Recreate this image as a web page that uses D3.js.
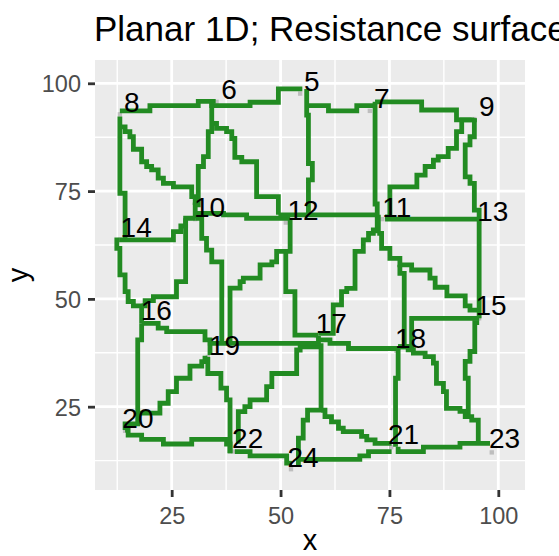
<!DOCTYPE html>
<html><head><meta charset="utf-8">
<script src="https://cdn.jsdelivr.net/npm/d3@7"></script>
<style>body{margin:0;background:#fff}</style>
</head><body><svg id="c" width="559" height="556"></svg>
<script>
const titleText = "Planar 1D; Resistance surface";
const xTicks = [25, 50, 75, 100];
const yTicks = [25, 50, 75, 100];
const xMinor = [12.5, 37.5, 62.5, 87.5];
const yMinor = [12.5, 37.5, 62.5, 87.5];

// node labels (anchor = label position) and node raster cells
const nodeIds = [5, 6, 7, 8, 9, 10, 11, 12, 13, 14, 15, 16, 17, 18, 19, 20, 21, 22, 23, 24];
const nodeX = [55.6, 36.6, 71.7, 14.3, 95.8, 30.35, 73.6, 51.8, 95.4, 13.5, 95.0, 18.1, 58.3, 76.5, 33.8, 13.9, 74.9, 39.1, 98.1, 51.8];
const nodeY = [98.1, 96.3, 94.3, 93.3, 92.3, 69.1, 69.1, 68.3, 68.1, 64.3, 46.3, 45.1, 42.0, 38.6, 37.0, 20.0, 16.35, 15.35, 15.35, 11.1];
const cellX = [54.5, 35.3, 70.5, 13.1, 94.5, 30.4, 73.4, 51.2, 95.6, 13.1, 95.6, 18.3, 58.3, 76.6, 33.3, 14.3, 75.4, 39.2, 98.5, 52.4];
const cellY = [97.6, 95.7, 93.6, 92.8, 91.7, 68.5, 68.5, 67.7, 67.7, 63.7, 45.5, 44.3, 41.4, 38.0, 36.5, 19.4, 15.6, 14.6, 14.4, 10.5];

// least-cost paths (x, y) on the resistance surface
const path_8_6 = [[13.1,93.6],[20.0,93.6],[20.0,94.8],[31.1,94.8],[31.1,95.8],[35.1,95.8]];
const path_6_5 = [[34.2,95.8],[34.2,94.8],[43.0,94.8],[43.0,95.6],[49.5,95.6],[49.5,98.7],[55.0,98.7]];
const path_5_11 = [[56.0,98.7],[56.0,92.6],[56.4,92.6],[56.4,81.4],[57.3,81.4],[57.3,77.6],[56.4,77.6],[56.4,69.5]];
const path_5_7 = [[56.4,94.8],[61.0,94.8],[61.0,93.6],[67.5,93.6],[67.5,94.8],[71.7,94.8]];
const path_7_11 = [[71.7,95.7],[71.7,72.0],[72.2,72.0],[72.2,65.2]];
const path_7_9 = [[71.7,95.7],[82.4,95.7],[82.4,93.8],[90.4,93.8],[90.4,91.5],[94.5,91.5],[94.5,91.9]];
const path_11_15 = [[72.2,65.2],[73.2,65.2],[73.2,61.7],[75.1,61.7],[75.1,59.4],[77.4,59.4],[77.4,57.9],[80.1,57.9],[80.1,56.7],[84.3,56.7],[84.3,54.8],[85.5,54.8],[85.5,52.7],[88.2,52.7],[88.2,50.7],[92.4,50.7],[92.4,48.4],[93.5,48.4],[93.5,47.4],[95.6,47.4]];
const path_11_18 = [[77.4,57.9],[77.4,55.9],[78.4,55.9],[78.4,39.0]];
const path_9_11 = [[93.9,91.5],[91.6,91.5],[91.6,88.8],[90.4,88.8],[90.4,84.9],[88.5,84.9],[88.5,83.0],[86.2,83.0],[86.2,82.2],[85.1,82.2],[85.1,80.7],[83.2,80.7],[83.2,78.7],[81.3,78.7],[81.3,76.0],[75.1,76.0],[75.1,69.0],[74.0,69.0]];
const path_9_13 = [[94.5,91.9],[94.5,87.6],[93.5,87.6],[93.5,85.7],[92.4,85.7],[92.4,78.3],[93.5,78.3],[93.5,76.8],[94.5,76.8],[94.5,70.6],[95.6,70.6],[95.6,68.5]];
const path_11_13 = [[74.0,68.5],[95.6,68.5]];
const path_13_15 = [[95.6,68.5],[95.6,45.5]];
const path_15_18 = [[95.6,45.5],[80.1,45.5],[80.1,38.9],[77.0,38.9]];
const path_15_23 = [[95.6,44.5],[94.6,44.5],[94.6,37.8],[93.5,37.8],[93.5,35.5],[92.4,35.5],[92.4,31.6],[93.1,31.6],[93.1,22.7]];
const path_18_23 = [[77.0,38.9],[79.3,38.9],[79.3,38.2],[80.5,38.2],[80.5,37.4],[83.2,37.4],[83.2,36.6],[85.1,36.6],[85.1,35.1],[85.8,35.1],[85.8,30.4],[87.4,30.4],[87.4,28.5],[88.1,28.5],[88.1,24.6],[91.2,24.6],[91.2,23.9],[92.4,23.9],[92.4,22.7],[93.9,22.7],[93.9,21.9],[95.4,21.9],[95.4,16.5]];
const path_18_21 = [[77.0,38.9],[77.0,31.6],[76.4,31.6],[76.4,15.7]];
const path_21_23 = [[77.0,15.7],[77.0,14.6],[82.8,14.6],[82.8,15.6],[91.2,15.6],[91.2,16.5],[98.1,16.5]];
const path_24_21 = [[54.1,12.8],[68.2,12.8],[68.2,13.6],[70.2,13.6],[70.2,14.6],[75.5,14.6]];
const path_17_21 = [[59.3,24.2],[60.2,24.2],[60.2,22.7],[61.7,22.7],[61.7,21.5],[63.3,21.5],[63.3,20.0],[64.4,20.0],[64.4,19.2],[68.6,19.2],[68.6,18.1],[69.8,18.1],[69.8,17.3],[71.7,17.3],[71.7,16.5],[75.5,16.5]];
const path_17_24 = [[59.3,39.7],[59.3,24.2],[56.2,24.2],[56.2,21.9],[55.2,21.9],[55.2,17.7],[54.1,17.7],[54.1,11.3]];
const path_22_24 = [[39.5,14.6],[43.0,14.6],[43.0,13.6],[51.4,13.6],[51.4,11.9],[52.6,11.9]];
const path_17_22 = [[58.3,39.7],[58.3,38.9],[54.5,38.9],[54.5,38.15],[53.7,38.15],[53.7,32.7],[48.0,32.7],[48.0,29.65],[46.8,29.65],[46.8,26.6],[43.0,26.6],[43.0,25.0],[41.8,25.0],[41.8,23.85],[40.3,23.85],[40.3,16.4]];
const path_19_22 = [[33.3,36.5],[33.3,32.7],[36.3,32.7],[36.3,29.3],[37.6,29.3],[37.6,26.6],[38.4,26.6],[38.4,14.2]];
const path_20_22 = [[14.3,19.6],[15.0,19.6],[15.0,18.4],[18.1,18.4],[18.1,17.4],[23.1,17.4],[23.1,16.35],[29.6,16.35],[29.6,17.4],[37.6,17.4],[37.6,16.35],[38.4,16.35],[38.4,14.2]];
const path_20_19 = [[17.2,23.5],[22.3,23.5],[22.3,25.8],[24.2,25.8],[24.2,28.5],[26.1,28.5],[26.1,31.6],[29.2,31.6],[29.2,34.4],[31.9,34.4],[31.9,35.45],[32.65,35.45],[32.65,36.8]];
const path_16_20 = [[18.1,44.3],[18.1,40.5],[17.2,40.5],[17.2,21.0],[14.3,21.0],[14.3,19.6]];
const path_16_19 = [[18.1,44.3],[21.9,44.3],[21.9,43.2],[23.85,43.2],[23.85,42.4],[32.65,42.4],[32.65,40.5],[33.8,40.5],[33.8,37.0]];
const path_19_17 = [[33.3,39.7],[58.7,39.7],[58.7,41.4]];
const path_17_18 = [[58.7,40.5],[61.35,40.5],[61.35,39.7],[65.6,39.7],[65.6,38.5],[77.0,38.5]];
const path_12_17 = [[52.2,68.7],[52.2,61.0],[51.2,61.0],[51.2,51.7],[53.3,51.7],[53.3,41.6],[58.7,41.6]];
const path_12_19 = [[51.2,61.0],[49.1,61.0],[49.1,58.6],[48.0,58.6],[48.0,57.9],[45.3,57.9],[45.3,54.8],[41.45,54.8],[41.45,54.0],[40.7,54.0],[40.7,52.5],[38.4,52.5],[38.4,39.7]];
const path_11_17 = [[72.45,69.5],[72.45,66.0],[71.3,66.0],[71.3,65.2],[70.2,65.2],[70.2,63.7],[69.0,63.7],[69.0,61.0],[67.1,61.0],[67.1,52.45],[65.2,52.45],[65.2,51.7],[64.0,51.7],[64.0,48.6],[62.1,48.6],[62.1,42.0],[58.7,42.0]];
const path_10_12 = [[30.4,69.85],[36.9,69.85],[36.9,69.5],[42.2,69.5],[42.2,68.7],[52.2,68.7]];
const path_12_11 = [[49.5,69.5],[72.45,69.5]];
const path_6_12 = [[34.2,90.7],[35.3,90.7],[35.3,89.55],[37.6,89.55],[37.6,88.8],[38.8,88.8],[38.8,87.2],[39.5,87.2],[39.5,82.8],[41.1,82.8],[41.1,81.8],[44.5,81.8],[44.5,73.7],[49.5,73.7],[49.5,69.5]];
const path_6_10 = [[34.2,95.8],[34.2,88.8],[33.4,88.8],[33.4,83.0],[32.3,83.0],[32.3,80.7],[31.1,80.7],[31.1,71.8],[30.4,71.8],[30.4,68.7]];
const path_8_10 = [[13.1,89.9],[14.3,89.9],[14.3,88.8],[15.4,88.8],[15.4,87.6],[16.2,87.6],[16.2,84.7],[18.1,84.7],[18.1,81.8],[19.25,81.8],[19.25,80.7],[20.4,80.7],[20.4,79.9],[21.9,79.9],[21.9,78.0],[23.1,78.0],[23.1,76.8],[25.4,76.8],[25.4,76.0],[29.6,76.0],[29.6,73.7],[30.4,73.7],[30.4,71.8]];
const path_8_14 = [[13.1,92.3],[13.1,74.5],[14.3,74.5],[14.3,63.7]];
const path_14_10 = [[13.1,63.7],[25.4,63.7],[25.4,65.6],[27.1,65.6],[27.1,66.9],[28.2,66.9],[28.2,68.7],[30.4,68.7]];
const path_14_16 = [[13.1,63.7],[12.4,63.7],[12.4,61.7],[13.1,61.7],[13.1,55.55],[14.3,55.55],[14.3,51.7],[15.0,51.7],[15.0,49.4],[16.2,49.4],[16.2,48.4],[18.1,48.4],[18.1,44.3]];
const path_10_16 = [[28.2,68.7],[28.2,54.0],[26.1,54.0],[26.1,50.5],[20.8,50.5],[20.8,49.6],[18.9,49.6],[18.9,48.4],[18.1,48.4]];
const path_10_19 = [[30.4,68.7],[31.9,68.7],[31.9,64.05],[33.0,64.05],[33.0,61.3],[34.2,61.3],[34.2,58.6],[36.5,58.6],[36.5,39.7]];

const paths = [path_8_6, path_6_5, path_5_11, path_5_7, path_7_11, path_7_9, path_11_15, path_11_18,
  path_9_11, path_9_13, path_11_13, path_13_15, path_15_18, path_15_23, path_18_23, path_18_21,
  path_21_23, path_24_21, path_17_21, path_17_24, path_22_24, path_17_22, path_19_22, path_20_22,
  path_20_19, path_16_20, path_16_19, path_19_17, path_17_18, path_12_17, path_12_19, path_11_17,
  path_10_12, path_12_11, path_6_12, path_6_10, path_8_10, path_8_14, path_14_10, path_14_16,
  path_10_16, path_10_19];

const FONT = "'Liberation Sans', Arial, Helvetica, sans-serif";
const svg = d3.select("#c");
svg.append("rect").attr("width", 559).attr("height", 556).attr("fill", "#fff");

const panel = {l: 95, r: 525, t: 60, b: 490};
const x = d3.scaleLinear().domain([7.39, 106.13]).range([panel.l, panel.r]);
const y = d3.scaleLinear().domain([5.68, 105.40]).range([panel.b, panel.t]);

svg.append("rect").attr("x", panel.l).attr("y", panel.t)
  .attr("width", panel.r - panel.l).attr("height", panel.b - panel.t).attr("fill", "#EBEBEB");

const grid = svg.append("g");
grid.selectAll("line.xmin").data(xMinor).join("line")
  .attr("x1", d => x(d)).attr("x2", d => x(d)).attr("y1", panel.t).attr("y2", panel.b)
  .attr("stroke", "#fff").attr("stroke-width", 1.4);
grid.selectAll("line.ymin").data(yMinor).join("line")
  .attr("y1", d => y(d)).attr("y2", d => y(d)).attr("x1", panel.l).attr("x2", panel.r)
  .attr("stroke", "#fff").attr("stroke-width", 1.4);
grid.selectAll("line.xmaj").data(xTicks).join("line")
  .attr("x1", d => x(d)).attr("x2", d => x(d)).attr("y1", panel.t).attr("y2", panel.b)
  .attr("stroke", "#fff").attr("stroke-width", 2.8);
grid.selectAll("line.ymaj").data(yTicks).join("line")
  .attr("y1", d => y(d)).attr("y2", d => y(d)).attr("x1", panel.l).attr("x2", panel.r)
  .attr("stroke", "#fff").attr("stroke-width", 2.8);

// node cells
const cellSize = x(1) - x(0);
svg.append("g").selectAll("rect").data(nodeIds.map((id, i) => ({x: cellX[i], y: cellY[i]}))).join("rect")
  .attr("x", d => x(d.x) - cellSize / 2).attr("y", d => y(d.y) - cellSize / 2)
  .attr("width", cellSize).attr("height", cellSize).attr("fill", "#BEBEBE");

// paths
const line = d3.line().x(d => x(d[0])).y(d => y(d[1]));
svg.append("g").selectAll("path").data(paths).join("path")
  .attr("d", line).attr("fill", "none").attr("stroke", "#228B22")
  .attr("stroke-width", 4.8).attr("stroke-linejoin", "miter").attr("stroke-linecap", "butt");

// labels
svg.append("g").selectAll("text").data(nodeIds.map((id, i) => ({id, x: nodeX[i], y: nodeY[i]}))).join("text")
  .attr("x", d => x(d.x) - 1).attr("y", d => y(d.y))
  .attr("font-family", FONT).attr("font-size", 28).attr("fill", "#000")
  .text(d => d.id);

// axes
const xAxis = d3.axisBottom(x).tickValues(xTicks).tickSize(7).tickPadding(7);
const gx = svg.append("g").attr("transform", `translate(0,${panel.b})`).call(xAxis);
const yAxis = d3.axisLeft(y).tickValues(yTicks).tickSize(7).tickPadding(7);
const gy = svg.append("g").attr("transform", `translate(${panel.l},0)`).call(yAxis);
[gx, gy].forEach(g => {
  g.select(".domain").remove();
  g.selectAll(".tick line").attr("stroke", "#333333").attr("stroke-width", 2.8);
  g.selectAll(".tick text").attr("fill", "#4D4D4D").attr("font-family", FONT).attr("font-size", 23.5);
});
gx.selectAll(".tick text").attr("dy", null).attr("y", 34);
gy.selectAll(".tick text").attr("x", -14).attr("dy", "0.36em");

// titles
svg.append("text").attr("x", 94).attr("y", 41).attr("font-family", FONT).attr("font-size", 35)
  .attr("fill", "#000").text(titleText);
svg.append("text").attr("x", (panel.l + panel.r) / 2).attr("y", 550).attr("text-anchor", "middle")
  .attr("font-family", FONT).attr("font-size", 29).attr("fill", "#000").text("x");
svg.append("text").attr("transform", `translate(28,${(panel.t + panel.b) / 2}) rotate(-90)`)
  .attr("text-anchor", "middle").attr("font-family", FONT).attr("font-size", 29).attr("fill", "#000").text("y");
</script></body></html>
